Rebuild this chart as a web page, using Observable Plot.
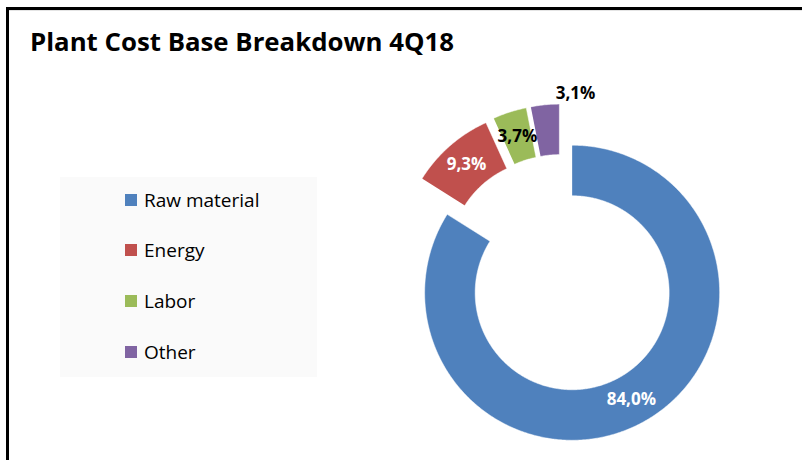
<!DOCTYPE html>
<html>
<head>
<meta charset="utf-8">
<script src="https://cdn.jsdelivr.net/npm/d3@7"></script>
<script src="https://cdn.jsdelivr.net/npm/@observablehq/plot@0.6"></script>
<style>
  html, body { margin: 0; padding: 0; background: #fff; }
  #wrap { position: relative; width: 802px; height: 460px; overflow: hidden; background: #fff; font-family: "Open Sans", sans-serif; }
  #frameL { position: absolute; left: 6px; top: 7px; width: 3px; height: 460px; background: #000; }
  #frameT { position: absolute; left: 6px; top: 7px; width: 800px; height: 3px; background: #000; }
  #frameT2 { position: absolute; left: 9px; top: 10px; width: 800px; height: 1px; background: #e4e4e4; }
  #title { position: absolute; left: 30px; top: 28px; font-weight: 700; font-size: 25.8px; line-height: 26px; color: #000; white-space: nowrap; }
  #legend { position: absolute; left: 60px; top: 177px; width: 257px; height: 200px; background: #fafafa; }
  .item { position: absolute; left: 65px; height: 20px; line-height: 20px; font-size: 19px; color: #000; white-space: nowrap; }
  .sw { position: absolute; left: 0; top: 4px; width: 12px; height: 12px; }
  .lt { position: absolute; left: 19px; top: 0; }
  #chart { position: absolute; left: 0; top: 0; }
</style>
</head>
<body>
<div id="wrap">
  <div id="legend"></div>
  <div id="chart"></div>
  <div id="frameL"></div>
  <div id="frameT"></div>
  <div id="frameT2"></div>
  <div id="title">Plant Cost Base Breakdown 4Q18</div>
</div>
<script>
// ---- data ----
const categories = ["Raw material", "Energy", "Labor", "Other"];
const values = [84.0, 9.3, 3.7, 3.1];
const labels = ["84,0%", "9,3%", "3,7%", "3,1%"];
const colors = ["#4F81BD", "#C0504D", "#9BBB59", "#8064A2"];
const labelColors = ["#ffffff", "#ffffff", "#000000", "#000000"];

// ---- layout (pixels) ----
const W = 802, H = 460;
const CX = 561, CY = 273;     // donut centre
const R = 147.5;              // outer radius in px = 1 data unit
const inner = 97 / R;         // inner radius (units)
const explode = 22 / R;       // explosion distance (units)

// ---- geometry from data ----
const arcs = d3.pie().sort(null).value(d => d)(values);
const pts = [];
const lab = [];
arcs.forEach((a, i) => {
  const mid = (a.startAngle + a.endAngle) / 2;
  const ox = explode * Math.sin(mid), oy = explode * Math.cos(mid);
  const n = Math.max(4, Math.ceil((a.endAngle - a.startAngle) / (Math.PI / 360)));
  for (let k = 0; k <= n; k++) {
    const t = a.startAngle + (a.endAngle - a.startAngle) * k / n;
    pts.push({cat: categories[i], x: ox + Math.sin(t), y: oy + Math.cos(t)});
  }
  for (let k = n; k >= 0; k--) {
    const t = a.startAngle + (a.endAngle - a.startAngle) * k / n;
    pts.push({cat: categories[i], x: ox + inner * Math.sin(t), y: oy + inner * Math.cos(t)});
  }
  const last = i === arcs.length - 1;
  // last (small) label is placed outside the ring, like the reference
  const lr = last ? 1.225 : (1 + inner) / 2 + explode;
  const la = last ? a.endAngle + 0.078 : mid;
  lab.push({cat: categories[i], text: labels[i], color: labelColors[i], x: lr * Math.sin(la), y: lr * Math.cos(la)});
});

const chart = Plot.plot({
  width: W, height: H, margin: 0,
  style: {background: "transparent", overflow: "visible"},
  x: {domain: [-CX / R, (W - CX) / R], axis: null},
  y: {domain: [-(H - CY) / R, CY / R], axis: null},
  color: {domain: categories, range: colors},
  marks: [
    Plot.line(pts, {x: "x", y: "y", z: "cat", fill: "cat", stroke: "white", strokeWidth: 0.5, curve: "linear"}),
    Plot.text(lab, {x: "x", y: "y", text: "text", fill: d => d.color, fontWeight: "bold", fontSize: 17, fontFamily: "Open Sans"})
  ]
});
document.getElementById("chart").appendChild(chart);

// ---- legend ----
const legend = document.getElementById("legend");
const rowCenters = [200, 250.7, 301.5, 352];
categories.forEach((c, i) => {
  const it = document.createElement("div");
  it.className = "item";
  it.style.top = (rowCenters[i] - 177 - 10.5) + "px";
  const sw = document.createElement("div");
  sw.className = "sw";
  sw.style.background = colors[i];
  const t = document.createElement("span");
  t.className = "lt";
  t.textContent = c;
  it.appendChild(sw); it.appendChild(t);
  legend.appendChild(it);
});
</script>
</body>
</html>
